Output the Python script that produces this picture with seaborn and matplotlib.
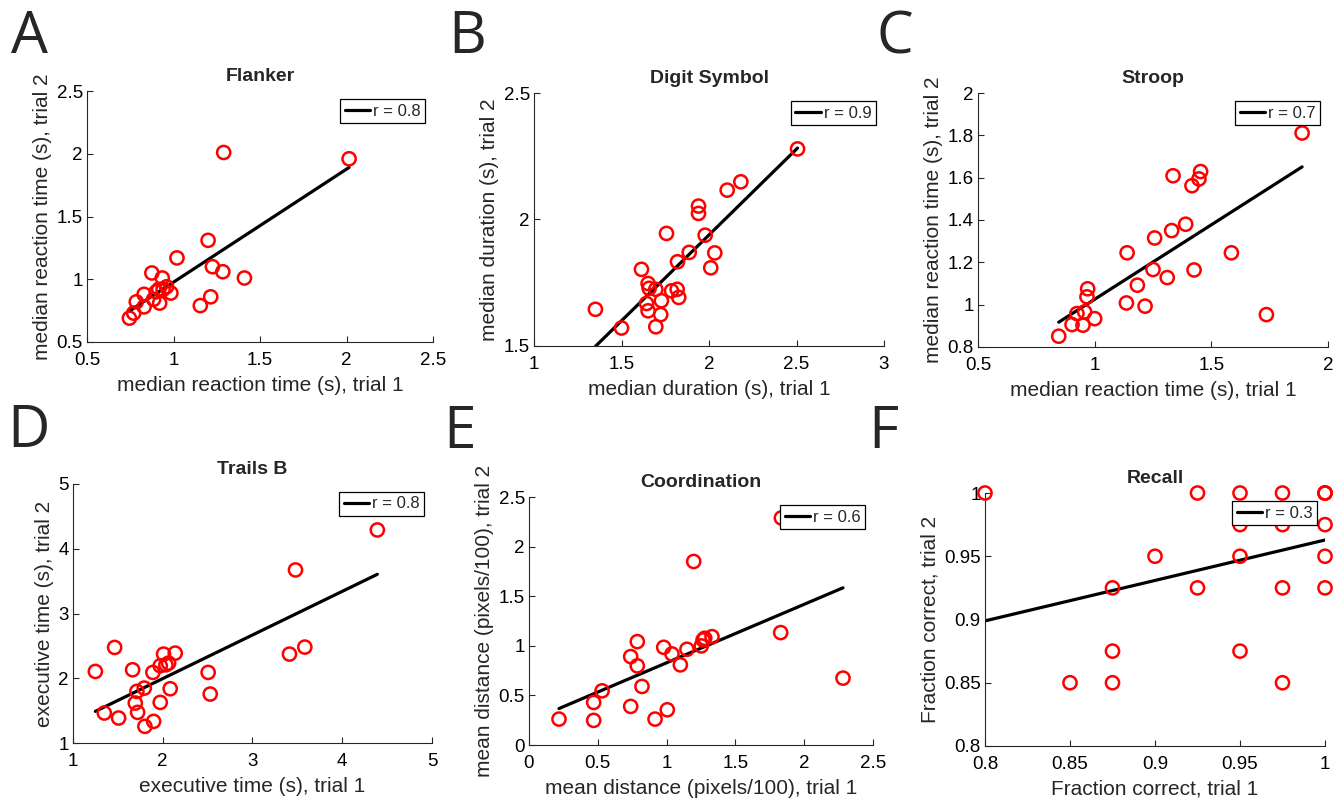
import numpy as np
import pandas as pd
import matplotlib
matplotlib.use("Agg")
import matplotlib.pyplot as plt
import seaborn as sns
from matplotlib.ticker import FuncFormatter

# ---------------- data ----------------
flanker_t1 = [0.745, 0.77, 0.785, 0.83, 0.83, 0.875, 0.885, 0.90, 0.915, 0.92, 0.935, 0.94,
              0.96, 0.985, 1.02, 1.155, 1.20, 1.215, 1.225, 1.285, 1.29, 1.41, 2.015]
flanker_t2 = [0.69, 0.73, 0.82, 0.78, 0.88, 1.05, 0.84, 0.90, 0.92, 0.81, 1.01, 0.92,
              0.94, 0.89, 1.17, 0.79, 1.31, 0.86, 1.10, 1.06, 2.01, 1.01, 1.96]

digit_t1 = [1.351, 1.50, 1.614, 1.652, 1.658, 1.643, 1.652, 1.696, 1.696, 1.728, 1.724, 1.757,
            1.786, 1.818, 1.827, 1.82, 1.887, 1.94, 1.94, 1.978, 2.01, 2.033, 2.104, 2.182, 2.506]
digit_t2 = [1.645, 1.571, 1.803, 1.747, 1.728, 1.668, 1.639, 1.724, 1.576, 1.679, 1.624, 1.945,
            1.718, 1.724, 1.692, 1.833, 1.87, 2.053, 2.024, 1.938, 1.809, 1.868, 2.116, 2.149, 2.279]

stroop_t1 = [0.846, 0.903, 0.924, 0.95, 0.957, 0.967, 0.97, 1.0, 1.136, 1.139, 1.183, 1.216, 1.25,
             1.257, 1.311, 1.33, 1.336, 1.39, 1.417, 1.426, 1.447, 1.454, 1.586, 1.736, 1.889]
stroop_t2 = [0.851, 0.906, 0.958, 0.903, 0.966, 1.037, 1.075, 0.934, 1.008, 1.245, 1.092, 0.993, 1.166,
             1.315, 1.128, 1.35, 1.609, 1.38, 1.562, 1.164, 1.594, 1.629, 1.245, 0.953, 1.811]

trails_t1 = [1.249, 1.349, 1.464, 1.508, 1.664, 1.694, 1.712, 1.72, 1.794, 1.801, 1.89, 1.898, 1.972,
             1.972, 2.009, 2.035, 2.065, 2.083, 2.139, 2.506, 2.529, 3.412, 3.479, 3.583, 4.391]
trails_t2 = [2.105, 1.463, 2.476, 1.386, 2.131, 1.617, 1.797, 1.473, 1.848, 1.257, 2.09, 1.334, 1.627,
             2.193, 2.373, 2.208, 2.234, 1.838, 2.388, 2.09, 1.756, 2.373, 3.673, 2.481, 4.29]

coord_t1 = [0.218, 0.47, 0.47, 0.531, 0.739, 0.739, 0.787, 0.787, 0.821, 0.916, 0.979, 1.005,
            1.039, 1.10, 1.148, 1.197, 1.252, 1.265, 1.277, 1.33, 1.829, 1.834, 2.282]
coord_t2 = [0.261, 0.248, 0.429, 0.546, 0.389, 0.891, 0.798, 1.042, 0.59, 0.261, 0.985, 0.355,
            0.918, 0.808, 0.965, 1.85, 0.999, 1.059, 1.076, 1.092, 1.133, 2.289, 0.674]

# several participants share the same score on this discrete test (overlapping circles)
recall_t1 = [0.80, 0.85, 0.875, 0.875, 0.875, 0.90, 0.925, 0.925, 0.95, 0.95, 0.95, 0.95,
             0.975, 0.975, 0.975, 0.975, 1.0, 1.0, 1.0, 1.0, 1.0, 1.0]
recall_t2 = [1.00, 0.85, 0.925, 0.875, 0.85, 0.95, 1.0, 0.925, 1.0, 0.975, 0.95, 0.875,
             1.0, 0.975, 0.925, 0.85, 1.0, 0.975, 0.95, 0.925, 1.0, 1.0]

letters = ["A", "B", "C", "D", "E", "F"]
titles = ["Flanker", "Digit Symbol", "Stroop", "Trails B", "Coordination", "Recall"]
xlabels = ["median reaction time (s), trial 1", "median duration (s), trial 1",
           "median reaction time (s), trial 1", "executive time (s), trial 1",
           "mean distance (pixels/100), trial 1", "Fraction correct, trial 1"]
ylabels = ["median reaction time (s), trial 2", "median duration (s), trial 2",
           "median reaction time (s), trial 2", "executive time (s), trial 2",
           "mean distance (pixels/100), trial 2", "Fraction correct, trial 2"]
r_labels = ["r = 0.8", "r = 0.9", "r = 0.7", "r = 0.8", "r = 0.6", "r = 0.3"]
xticks = [[0.5, 1, 1.5, 2, 2.5], [1, 1.5, 2, 2.5, 3], [0.5, 1, 1.5, 2],
          [1, 2, 3, 4, 5], [0, 0.5, 1, 1.5, 2, 2.5], [0.8, 0.85, 0.9, 0.95, 1]]
yticks = [[0.5, 1, 1.5, 2, 2.5], [1.5, 2, 2.5], [0.8, 1, 1.2, 1.4, 1.6, 1.8, 2],
          [1, 2, 3, 4, 5], [0, 0.5, 1, 1.5, 2, 2.5], [0.8, 0.85, 0.9, 0.95, 1]]
xs = [flanker_t1, digit_t1, stroop_t1, trails_t1, coord_t1, recall_t1]
ys = [flanker_t2, digit_t2, stroop_t2, trails_t2, coord_t2, recall_t2]

# ---------------- layout ----------------
sns.set_style("ticks")
plt.rcParams["font.family"] = ["Liberation Sans", "DejaVu Sans"]

W, H = 1344, 801
fig = plt.figure(figsize=(W / 100, H / 100), dpi=100)

# axes boxes in pixels: left, top, right, bottom
boxes = [(87, 91, 433, 342), (534, 93, 884, 346), (978, 93, 1328, 347),
         (73, 484, 432, 743), (529, 497, 873, 745), (985, 493, 1325, 746)]
letter_pos = [(11, 53), (448, 53), (877, 53), (7, 447), (443, 448), (868, 448)]

fmt = FuncFormatter(lambda v, p: "%g" % round(v, 4))

for i in range(6):
    l, t, r, b = boxes[i]
    ax = fig.add_axes([l / W, 1 - b / H, (r - l) / W, (b - t) / H])
    df = pd.DataFrame({"t1": xs[i], "t2": ys[i]})
    sns.regplot(data=df, x="t1", y="t2", ax=ax, ci=None, truncate=True,
                color="red",
                scatter_kws=dict(s=90, facecolors="none", edgecolors="red",
                                 linewidths=1.8, alpha=1, clip_on=False, zorder=3),
                line_kws=dict(color="black", lw=2.3, label=r_labels[i], zorder=2))
    ax.set_xlim(xticks[i][0], xticks[i][-1])
    ax.set_ylim(yticks[i][0], yticks[i][-1])
    ax.set_xticks(xticks[i])
    ax.set_yticks(yticks[i])
    ax.xaxis.set_major_formatter(fmt)
    ax.yaxis.set_major_formatter(fmt)
    sns.despine(ax=ax)
    for s in ("left", "bottom"):
        ax.spines[s].set_color("#262626")
        ax.spines[s].set_linewidth(0.8)
    ax.tick_params(axis="both", direction="in", length=4, width=0.8,
                   color="#262626", labelcolor="black", labelsize=13.5)
    ax.tick_params(axis="x", pad=7)
    ax.tick_params(axis="y", pad=3)
    ax.set_xlabel(xlabels[i], fontsize=15, labelpad=5)
    ax.set_ylabel(ylabels[i], fontsize=15, labelpad=3)
    ax.set_title(titles[i], fontsize=14, fontweight="bold", pad=7)
    leg = ax.legend(loc="upper right", frameon=True, fancybox=False, framealpha=1,
                    edgecolor="black", fontsize=12, handlelength=1.55,
                    handletextpad=0.15, borderpad=0.25, borderaxespad=0.5)
    leg.get_frame().set_linewidth(0.9)
    leg.set_zorder(5)

    lx, ly = letter_pos[i]
    fig.text(lx / W, 1 - ly / H, letters[i], fontsize=42, ha="left", va="baseline",
             family=["Open Sans", "DejaVu Sans"])

fig.savefig("out.png", dpi=100)
